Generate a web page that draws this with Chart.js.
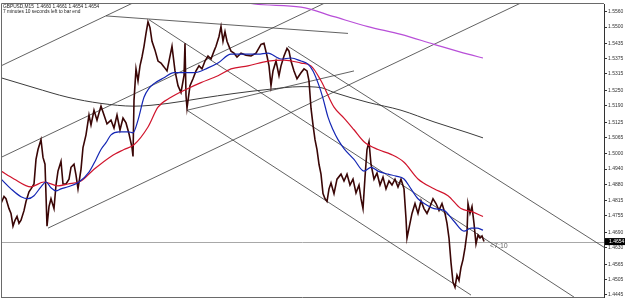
<!DOCTYPE html>
<html>
<head>
<meta charset="utf-8">
<script src="https://cdn.jsdelivr.net/npm/chart.js@4.4.1/dist/chart.umd.min.js"></script>
<style>
html,body{margin:0;padding:0;background:#fff;}
canvas{display:block;}
</style>
</head>
<body>
<canvas id="c" width="625" height="301"></canvas>
<script>
// ---- data (bar index, price) ----
const symbolHeader = "GBPUSD,M15  1.4660 1.4661 1.4654 1.4654";
const timerText = "7 minutes 10 seconds left to bar end";
const timerLabel = "<7:10";
const currentPrice = 1.4654;
const currentPriceLabel = "1.4654";

const tickLabels = ["1.4445","1.4505","1.4565","1.4630","1.4690","1.4755","1.4815","1.4880","1.4940","1.5000",
  "1.5065","1.5125","1.5190","1.5250","1.5315","1.5375","1.5435","1.5500","1.5560"];

const priceBars = [0,3,5,8,10,12,14,16,18,20,23,25,28,30,33,35,37,40,42,44,46,48,50,53,55,57,60,62,65,68,70,73,75,77,80,82,85,88,90,93,96,98,100,103,106,110,113,116,119,122,125,128,131,132,133,135,137,139,141,143,145,147,149,151,154,157,160,163,166,168,171,174,177,180,183,184,185,186,189,192,195,198,201,204,207,210,213,215,218,220,222,224,226,228,230,233,236,240,245,250,255,260,263,266,268,270,272,275,278,280,283,286,288,290,293,296,300,303,306,308,310,312,314,316,318,320,322,324,326,328,330,333,336,340,343,346,349,352,355,358,360,362,364,366,368,370,373,376,379,382,385,388,391,394,397,400,403,405,406,408,411,414,417,420,423,426,429,432,435,438,441,444,446,448,450,452,454,456,458,460,462,464,466,467,469,471,473,475,477,479,481,483];
const priceClose = [1.4804,1.4832,1.4823,1.4784,1.4765,1.4715,1.4738,1.4753,1.4726,1.4738,1.4776,1.4812,1.4850,1.4862,1.4881,1.4978,1.5017,1.5056,1.4986,1.4959,1.4715,1.4792,1.4823,1.4784,1.4877,1.4932,1.4970,1.4881,1.4881,1.4900,1.4947,1.4959,1.4916,1.4862,1.4939,1.5025,1.5075,1.5153,1.5114,1.5172,1.5133,1.5161,1.5188,1.5153,1.5118,1.5133,1.5102,1.5153,1.5094,1.5141,1.5122,1.5079,1.5025,1.4990,1.5211,1.5335,1.5288,1.5347,1.5382,1.5424,1.5475,1.5521,1.5498,1.5444,1.5409,1.5366,1.5358,1.5343,1.5327,1.5366,1.5424,1.5327,1.5269,1.5242,1.5308,1.5436,1.5230,1.5180,1.5269,1.5296,1.5327,1.5347,1.5335,1.5366,1.5386,1.5374,1.5405,1.5424,1.5463,1.5502,1.5444,1.5482,1.5444,1.5424,1.5405,1.5397,1.5382,1.5397,1.5389,1.5386,1.5397,1.5432,1.5436,1.5386,1.5347,1.5269,1.5327,1.5366,1.5308,1.5347,1.5386,1.5416,1.5405,1.5366,1.5327,1.5296,1.5320,1.5335,1.5327,1.5288,1.5180,1.5114,1.5056,1.5017,1.4959,1.4920,1.4843,1.4823,1.4812,1.4862,1.4885,1.4843,1.4900,1.4920,1.4893,1.4920,1.4877,1.4900,1.4846,1.4877,1.4823,1.4784,1.4908,1.5017,1.5048,1.4959,1.4900,1.4924,1.4877,1.4908,1.4862,1.4893,1.4877,1.4900,1.4869,1.4900,1.4862,1.4745,1.4668,1.4707,1.4765,1.4804,1.4765,1.4815,1.4784,1.4765,1.4792,1.4823,1.4804,1.4777,1.4804,1.4765,1.4726,1.4668,1.4571,1.4494,1.4474,1.4521,1.4501,1.4552,1.4583,1.4629,1.4688,1.4804,1.4765,1.4792,1.4726,1.4645,1.4680,1.4668,1.4676,1.4654];

const maFastBars = [0,10,20,27,33,40,45,50,55,60,67,78,88,95,100,105,110,118,127,132,137,143,148,153,163,173,183,193,207,217,230,243,257,267,280,290,300,307,312,318,322,327,332,337,343,353,363,370,377,387,395,403,410,417,425,433,443,453,463,470,476,482];
const maFast = [1.4901,1.4862,1.4831,1.4823,1.4835,1.4870,1.4889,1.4866,1.4854,1.4862,1.4870,1.4889,1.4928,1.4978,1.5017,1.5044,1.5075,1.5087,1.5087,1.5083,1.5133,1.5223,1.5258,1.5277,1.5300,1.5320,1.5320,1.5320,1.5339,1.5358,1.5393,1.5393,1.5393,1.5397,1.5374,1.5378,1.5366,1.5354,1.5327,1.5269,1.5219,1.5145,1.5095,1.5056,1.5021,1.4978,1.4932,1.4947,1.4932,1.4920,1.4912,1.4901,1.4862,1.4823,1.4800,1.4784,1.4777,1.4734,1.4695,1.4707,1.4707,1.4699];

const maSlowBars = [0,13,30,43,57,67,80,93,110,123,133,147,157,170,187,200,217,230,247,267,283,300,310,320,333,343,353,363,377,390,403,417,433,447,460,470,482];
const maSlow = [1.4932,1.4901,1.4870,1.4889,1.4874,1.4881,1.4893,1.4939,1.4990,1.5017,1.5036,1.5106,1.5184,1.5223,1.5258,1.5281,1.5308,1.5335,1.5347,1.5366,1.5370,1.5358,1.5347,1.5288,1.5184,1.5141,1.5095,1.5048,1.5017,1.4998,1.4967,1.4901,1.4862,1.4835,1.4784,1.4773,1.4753];

const maLongBars = [0,33,67,100,133,167,200,233,267,300,320,333,367,400,433,467,482];
const maLong = [1.5300,1.5261,1.5223,1.5199,1.5188,1.5199,1.5219,1.5238,1.5254,1.5265,1.5261,1.5242,1.5203,1.5172,1.5126,1.5083,1.5063];

const maHtfBars = [240,253,300,333,367,400,433,467,482];
const maHtf = [1.5603,1.5591,1.5579,1.5541,1.5502,1.5471,1.5432,1.5393,1.5378];

// trend lines: [bar, price] endpoints
const channelUpA = [[0,1.5347],[134,1.5599]];
const channelUpB = [[0,1.4986],[326,1.5599]];
const channelUpC = [[47,1.4707],[522,1.5599]];
const supportLine = [[186,1.5172],[353,1.5327]];
const topLine = [[105,1.5544],[347,1.5475]];
const channelDownA = [[287,1.5424],[604,1.4629]];
const channelDownB = [[148,1.5529],[573,1.4435]];
const channelDownC = [[186,1.5172],[470,1.4443]];

// ---- chart ----
const pts = (xs, ys) => xs.map((x,i)=>({x:x, y:ys[i]}));
const seg = (s) => s.map(p=>({x:p[0], y:p[1]}));
const trendStyle = {borderColor:'#3a3a3a', borderWidth:0.8, pointRadius:0, fill:false, tension:0};
const trendLines = [channelUpA, channelUpB, channelUpC, supportLine, topLine, channelDownA, channelDownB, channelDownC];

const overlay = {
  id:'overlay',
  beforeDatasetsDraw(chart){
    const {ctx, chartArea:a, scales:{y, x}} = chart;
    const py = Math.round(y.getPixelForValue(currentPrice))+0.5;
    ctx.save();
    ctx.strokeStyle = '#a8a8a8'; ctx.lineWidth = 1;
    ctx.beginPath(); ctx.moveTo(a.left, py); ctx.lineTo(a.right, py); ctx.stroke();
    ctx.restore();
  },
  afterDraw(chart){
    const {ctx, chartArea:a, scales:{y, x}} = chart;
    ctx.save();
    // frame
    ctx.strokeStyle = '#6a6a6a'; ctx.lineWidth = 1;
    ctx.beginPath();
    ctx.moveTo(a.left+0.5, a.bottom+0.5); ctx.lineTo(a.left+0.5, a.top-0.5); ctx.lineTo(a.right, a.top-0.5);
    ctx.moveTo(a.left, a.bottom+0.5); ctx.lineTo(a.right, a.bottom+0.5);
    ctx.stroke();
    // header
    ctx.fillStyle = '#222';
    ctx.font = '4.8px "Liberation Sans", Arial, sans-serif';
    ctx.textBaseline = 'alphabetic';
    ctx.fillText(symbolHeader, 3, 8);
    ctx.fillText(timerText, 3, 12.5);
    // current price box
    const py = y.getPixelForValue(currentPrice);
    ctx.fillStyle = '#000';
    ctx.fillRect(a.right+1, py-3.5, 20, 7);
    ctx.fillStyle = '#fff';
    ctx.font = '5px "Liberation Sans", Arial, sans-serif';
    ctx.textBaseline = 'middle';
    ctx.fillText(currentPriceLabel, a.right+5, py+0.3);
    // timer label
    ctx.fillStyle = '#666';
    ctx.font = '7px "Liberation Sans", Arial, sans-serif';
    ctx.fillText(timerLabel, x.getPixelForValue(priceBars[priceBars.length-1]) + 6, py+4);
    ctx.restore();
  }
};

new Chart(document.getElementById('c'), {
  type:'line',
  data:{
    datasets:[
      ...trendLines.map(t=>Object.assign({data:seg(t), order:5}, trendStyle)),
      {data:pts(maHtfBars, maHtf), borderColor:'#b84fd8', borderWidth:1.2, pointRadius:0, cubicInterpolationMode:'monotone', order:4},
      {data:pts(maLongBars, maLong), borderColor:'#3c3c3c', borderWidth:1, pointRadius:0, cubicInterpolationMode:'monotone', order:4},
      {data:pts(priceBars, priceClose), borderColor:'#3a0606', borderWidth:1.6, pointRadius:0, tension:0, order:3},
      {data:pts(maSlowBars, maSlow), borderColor:'#d0142c', borderWidth:1.2, pointRadius:0, cubicInterpolationMode:'monotone', order:2},
      {data:pts(maFastBars, maFast), borderColor:'#1426b4', borderWidth:1.2, pointRadius:0, cubicInterpolationMode:'monotone', order:1}
    ]
  },
  options:{
    responsive:false, animation:false, devicePixelRatio:1,
    layout:{padding:{left:1, top:2, right:0, bottom:1}},
    plugins:{legend:{display:false}, tooltip:{enabled:false}},
    elements:{line:{borderCapStyle:'butt'}},
    scales:{
      x:{type:'linear', min:0, max:603, display:false},
      y:{
        position:'right', min:1.44354, max:1.55910,
        afterFit(s){ s.width = 21; },
        afterBuildTicks(s){ s.ticks = tickLabels.map(t=>({value:parseFloat(t)})); },
        ticks:{autoSkip:false, padding:1, color:'#333', font:{family:'"Liberation Sans", Arial, sans-serif', size:5},
          callback:(v,i)=>tickLabels[i]},
        grid:{drawOnChartArea:false, drawTicks:true, tickLength:3, color:'#333'},
        border:{display:true, color:'#333', width:1}
      }
    }
  },
  plugins:[overlay]
});
</script>
</body>
</html>
